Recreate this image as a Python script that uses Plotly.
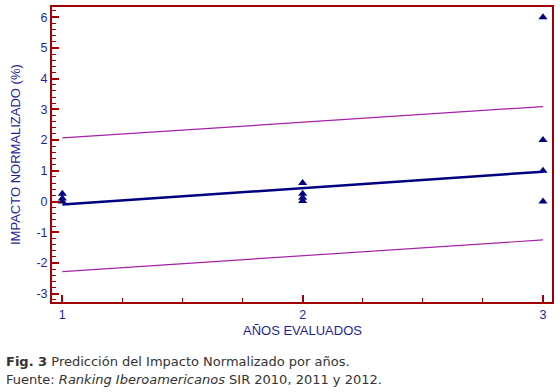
import plotly.graph_objects as go

# Observed points (year index, normalized impact %)
year1_vals = [0.25, 0.1, 0.0]
year2_vals = [0.6, 0.25, 0.12, 0.02]
year3_vals = [6.0, 2.0, 1.0, 0.0]

# Regression and prediction bands (endpoints at x=1 and x=3)
line_x = [1, 3]
fit_y = [-0.1, 0.97]
upper_y = [2.07, 3.09]
lower_y = [-2.28, -1.25]

y_tick_vals = [-3, -2, -1, 0, 1, 2, 3, 4, 5, 6]
y_tick_text = ["-3", "-2", "-1", "0", "1", "2", "3", "4", "5", "6"]
x_tick_vals = [1, 2, 3]
x_tick_text = ["1", "2", "3"]

pts_x = [1] * len(year1_vals) + [2] * len(year2_vals) + [3] * len(year3_vals)
pts_y = year1_vals + year2_vals + year3_vals

NAVY = "#000080"
MAG = "#a81fa8"
FRAME = "#a00000"

fig = go.Figure()
fig.add_trace(go.Scatter(x=line_x, y=upper_y, mode="lines",
                         line=dict(color=MAG, width=1.2), showlegend=False))
fig.add_trace(go.Scatter(x=line_x, y=lower_y, mode="lines",
                         line=dict(color=MAG, width=1.2), showlegend=False))
fig.add_trace(go.Scatter(x=line_x, y=fit_y, mode="lines",
                         line=dict(color=NAVY, width=2.5), showlegend=False))
fig.add_trace(go.Scatter(x=pts_x, y=pts_y, mode="markers",
                         marker=dict(symbol="triangle-up", size=8, color=NAVY),
                         showlegend=False, cliponaxis=False))

axis_font = dict(family="Liberation Sans, Arial, sans-serif", size=13, color="#1f1f9a")
tick_font = dict(family="Liberation Sans, Arial, sans-serif", size=12.5, color="#1f1f9a")

PW, PH = 500, 295

fig.update_layout(
    width=560, height=392,
    margin=dict(l=52, r=8, t=7, b=90, autoexpand=False),
    paper_bgcolor="white", plot_bgcolor="white",
    xaxis=dict(range=[0.957, 3.0375], tickvals=x_tick_vals, ticktext=x_tick_text,
               ticks="inside", ticklen=7, tickwidth=1.5, tickcolor=FRAME,
               minor=dict(dtick=0.25, ticks="inside", ticklen=4, tickcolor=FRAME, tickwidth=1.2),
               showline=True, linecolor=FRAME, linewidth=2, mirror=True,
               showgrid=False, zeroline=False, tickfont=tick_font, automargin=False),
    yaxis=dict(range=[-3.27, 6.33], tickvals=y_tick_vals, ticktext=y_tick_text,
               ticks="inside", ticklen=7, tickwidth=1.5, tickcolor=FRAME,
               minor=dict(dtick=0.2, ticks="inside", ticklen=4, tickcolor=FRAME, tickwidth=1.2),
               showline=True, linecolor=FRAME, linewidth=2, mirror=True,
               showgrid=False, zeroline=False, tickfont=tick_font, automargin=False),
)

# Axis titles
fig.add_annotation(xref="paper", yref="paper", x=(302 - 52) / PW, y=(302 - 330) / PH,
                   xanchor="center", yanchor="middle", text="AÑOS EVALUADOS",
                   showarrow=False, font=axis_font)
fig.add_annotation(xref="paper", yref="paper", x=(15 - 52) / PW, y=(302 - 155) / PH,
                   xanchor="center", yanchor="middle", text="IMPACTO NORMALIZADO (%)",
                   textangle=-90, showarrow=False, font=axis_font)

cap_font = dict(family="DejaVu Sans, Verdana, sans-serif", size=13, color="#333333")
fig.add_annotation(xref="paper", yref="paper", x=(4 - 52) / PW, y=(302 - 362) / PH,
                   xanchor="left", yanchor="middle",
                   text="<b>Fig. 3</b> Predicción del Impacto Normalizado por años.",
                   showarrow=False, font=cap_font)
fig.add_annotation(xref="paper", yref="paper", x=(4 - 52) / PW, y=(302 - 379) / PH,
                   xanchor="left", yanchor="middle",
                   text="Fuente: <i>Ranking Iberoamericanos</i> SIR 2010, 2011 y 2012.",
                   showarrow=False, font=cap_font)

fig.write_html("out.html", config={"displayModeBar": False},
               post_script="document.body.style.margin='0';")
